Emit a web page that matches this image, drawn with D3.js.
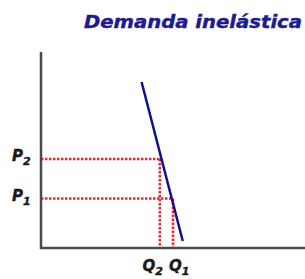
<!DOCTYPE html>
<html>
<head>
<meta charset="utf-8">
<script src="https://cdn.jsdelivr.net/npm/d3@7"></script>
<style>
  body { margin: 0; background: #fff; }
  svg { display: block; }
</style>
</head>
<body>
<div id="chart"></div>
<script>
const width = 305;
const height = 279;

const title = 'Demanda inelástica';
const demand = [{q: 38.1, p: 84.7}, {q: 53.7, p: 3.6}];
const prices = [{name: 'P', sub: '2', p: 45.4, q: 45.0}, {name: 'P', sub: '1', p: 25.2, q: 50.0}];
const quantities = [{name: 'Q', sub: '2', q: 45.0, p: 45.4}, {name: 'Q', sub: '1', q: 50.0, p: 25.2}];

const svg = d3.select('#chart')
  .append('svg')
  .attr('width', width)
  .attr('height', height);

const x = d3.scaleLinear().domain([0, 100]).range([41, 305]);
const y = d3.scaleLinear().domain([0, 100]).range([248, 52]);

svg.append('text')
  .attr('x', 84)
  .attr('y', 28)
  .attr('fill', '#1c1c8c')
  .style('font-family', 'DejaVu Sans')
  .style('font-weight', 'bold')
  .style('font-style', 'italic')
  .style('font-size', '17px')
  .attr('stroke', '#1c1c8c')
  .attr('stroke-width', 0.4)
  .attr('textLength', 218)
  .attr('lengthAdjust', 'spacingAndGlyphs')
  .text(title);

// dotted guides
svg.selectAll('line.hguide')
  .data(prices)
  .enter()
  .append('line')
  .attr('class', 'hguide')
  .attr('x1', x(0))
  .attr('x2', d => x(d.q))
  .attr('y1', d => y(d.p))
  .attr('y2', d => y(d.p))
  .attr('stroke', '#f0242c')
  .attr('stroke-width', 2.5)
  .attr('stroke-dasharray', '2.5,1.5');

svg.selectAll('line.vguide')
  .data(quantities)
  .enter()
  .append('line')
  .attr('class', 'vguide')
  .attr('x1', d => x(d.q))
  .attr('x2', d => x(d.q))
  .attr('y1', d => y(d.p))
  .attr('y2', y(0))
  .attr('stroke', '#f0242c')
  .attr('stroke-width', 2.5)
  .attr('stroke-dasharray', '2.5,1.5');

// axes
svg.append('path')
  .attr('d', d3.line()([[x(0), y(100)], [x(0), y(0)], [x(100), y(0)]]))
  .attr('fill', 'none')
  .attr('stroke', '#4a4a4a')
  .attr('stroke-width', 2.5);

// demand curve
svg.append('path')
  .datum(demand)
  .attr('d', d3.line().x(d => x(d.q)).y(d => y(d.p)))
  .attr('fill', 'none')
  .attr('stroke', '#10108a')
  .attr('stroke-width', 2.5);

function addLabel(sel) {
  sel.append('tspan').text(d => d.name);
  sel.append('tspan')
    .attr('dy', 4)
    .style('font-size', '11px')
    .text(d => d.sub);
}

function labelStyle(sel) {
  sel.attr('fill', '#1a1a1a')
    .attr('stroke', '#1a1a1a')
    .attr('stroke-width', 0.4)
    .style('font-family', 'DejaVu Sans')
    .style('font-weight', 'bold')
    .style('font-style', 'italic')
    .style('font-size', '15px');
}

svg.selectAll('text.plabel')
  .data(prices)
  .enter()
  .append('text')
  .attr('class', 'plabel')
  .attr('x', 12)
  .attr('y', d => y(d.p) + 2)
  .call(labelStyle)
  .call(addLabel);

svg.selectAll('text.qlabel')
  .data(quantities)
  .enter()
  .append('text')
  .attr('class', 'qlabel')
  .attr('x', (d, i) => i === 0 ? x(d.q) + 3 : x(d.q) - 4)
  .attr('text-anchor', (d, i) => i === 0 ? 'end' : 'start')
  .attr('y', 271)
  .call(labelStyle)
  .call(addLabel);
</script>
</body>
</html>
